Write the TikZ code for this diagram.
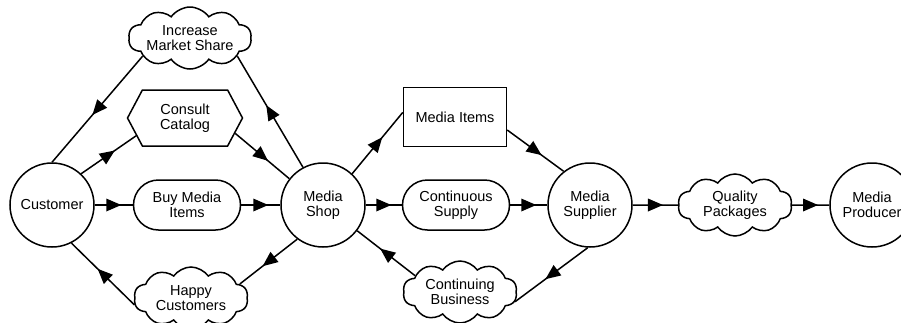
\documentclass[tikz,border=0pt]{standalone}
\usepackage{fontspec}
\setmainfont{Liberation Sans}
\usetikzlibrary{shapes.misc,shapes.symbols,decorations.markings}

\begin{document}
\begin{tikzpicture}[x=1pt,y=-1pt,
  every node/.style={font=\fontsize{14.5}{15.5}\selectfont, align=center,
    line width=1.5pt, draw, inner sep=0pt},
  actor/.style={circle, minimum size=84pt},
  goal/.style={rounded rectangle, minimum width=107pt, minimum height=50pt},
  softgoal/.style={cloud, cloud puffs=10, cloud puff arc=110,
    cloud ignores aspect=true, minimum width=114pt, minimum height=62pt},
  resource/.style={rectangle, minimum width=103pt, minimum height=59pt},
  task/.style={signal, signal to=east and west, signal pointer angle=124,
    minimum width=115pt, minimum height=56pt},
  link/.style={line width=1.5pt, postaction={decorate},
    decoration={markings, mark=at position 0.5 with
      {\fill (-7.5pt,-6.5pt) -- (7.5pt,0pt) -- (-7.5pt,6.5pt) -- cycle;}}},
]
\useasboundingbox (0,0) rectangle (901,322);

% actors
\node[actor] (cust) at (52,205) {Customer};
\node[actor] (shop) at (323,205) {Media\\Shop};
\node[actor] (supp) at (590,205) {Media\\Supplier};
\node[actor] (prod) at (872,205) {Media\\Producer};

% customer side
\node[softgoal] (ims)   at (190,38)  {Increase\\Market Share};
\node[task]     (cc)    at (185,118) {Consult\\Catalog};
\node[goal]     (buy)   at (187,205) {Buy Media\\Items};
\node[softgoal] (happy) at (191,298) {Happy\\Customers};

% supplier side
\node[resource] (mi) at (455,117) {Media Items};
\node[goal]     (cs) at (456,205) {Continuous\\Supply};
\node[softgoal] (cb) at (460,292) {Continuing\\Business};
\node[softgoal] (qp) at (735,205) {Quality\\Packages};

% dependencies
\draw[link] (ims.201) -- (cust.90);
\draw[link] (cust.47) -- (cc.200);
\draw[link] (cc.343) -- (shop.142);
\draw[link] (shop.118) -- (ims.339);
\draw[link] (cust.east) -- (buy.west);
\draw[link] (buy.east) -- (shop.west);
\draw[link] (shop.233) -- (happy.16);
\draw[link] (happy.187) -- (cust.297);

\draw[link] (shop.47) -- (mi.175);
\draw[link] (mi.346) -- (supp.128);
\draw[link] (shop.east) -- (cs.west);
\draw[link] (cs.east) -- (supp.west);
\draw[link] (supp.267) -- (cb.350);
\draw[link] (cb.160) -- (shop.323);
\draw[link] (supp.east) -- (qp.west);
\draw[link] (qp.east) -- (prod.west);
\end{tikzpicture}
\end{document}
